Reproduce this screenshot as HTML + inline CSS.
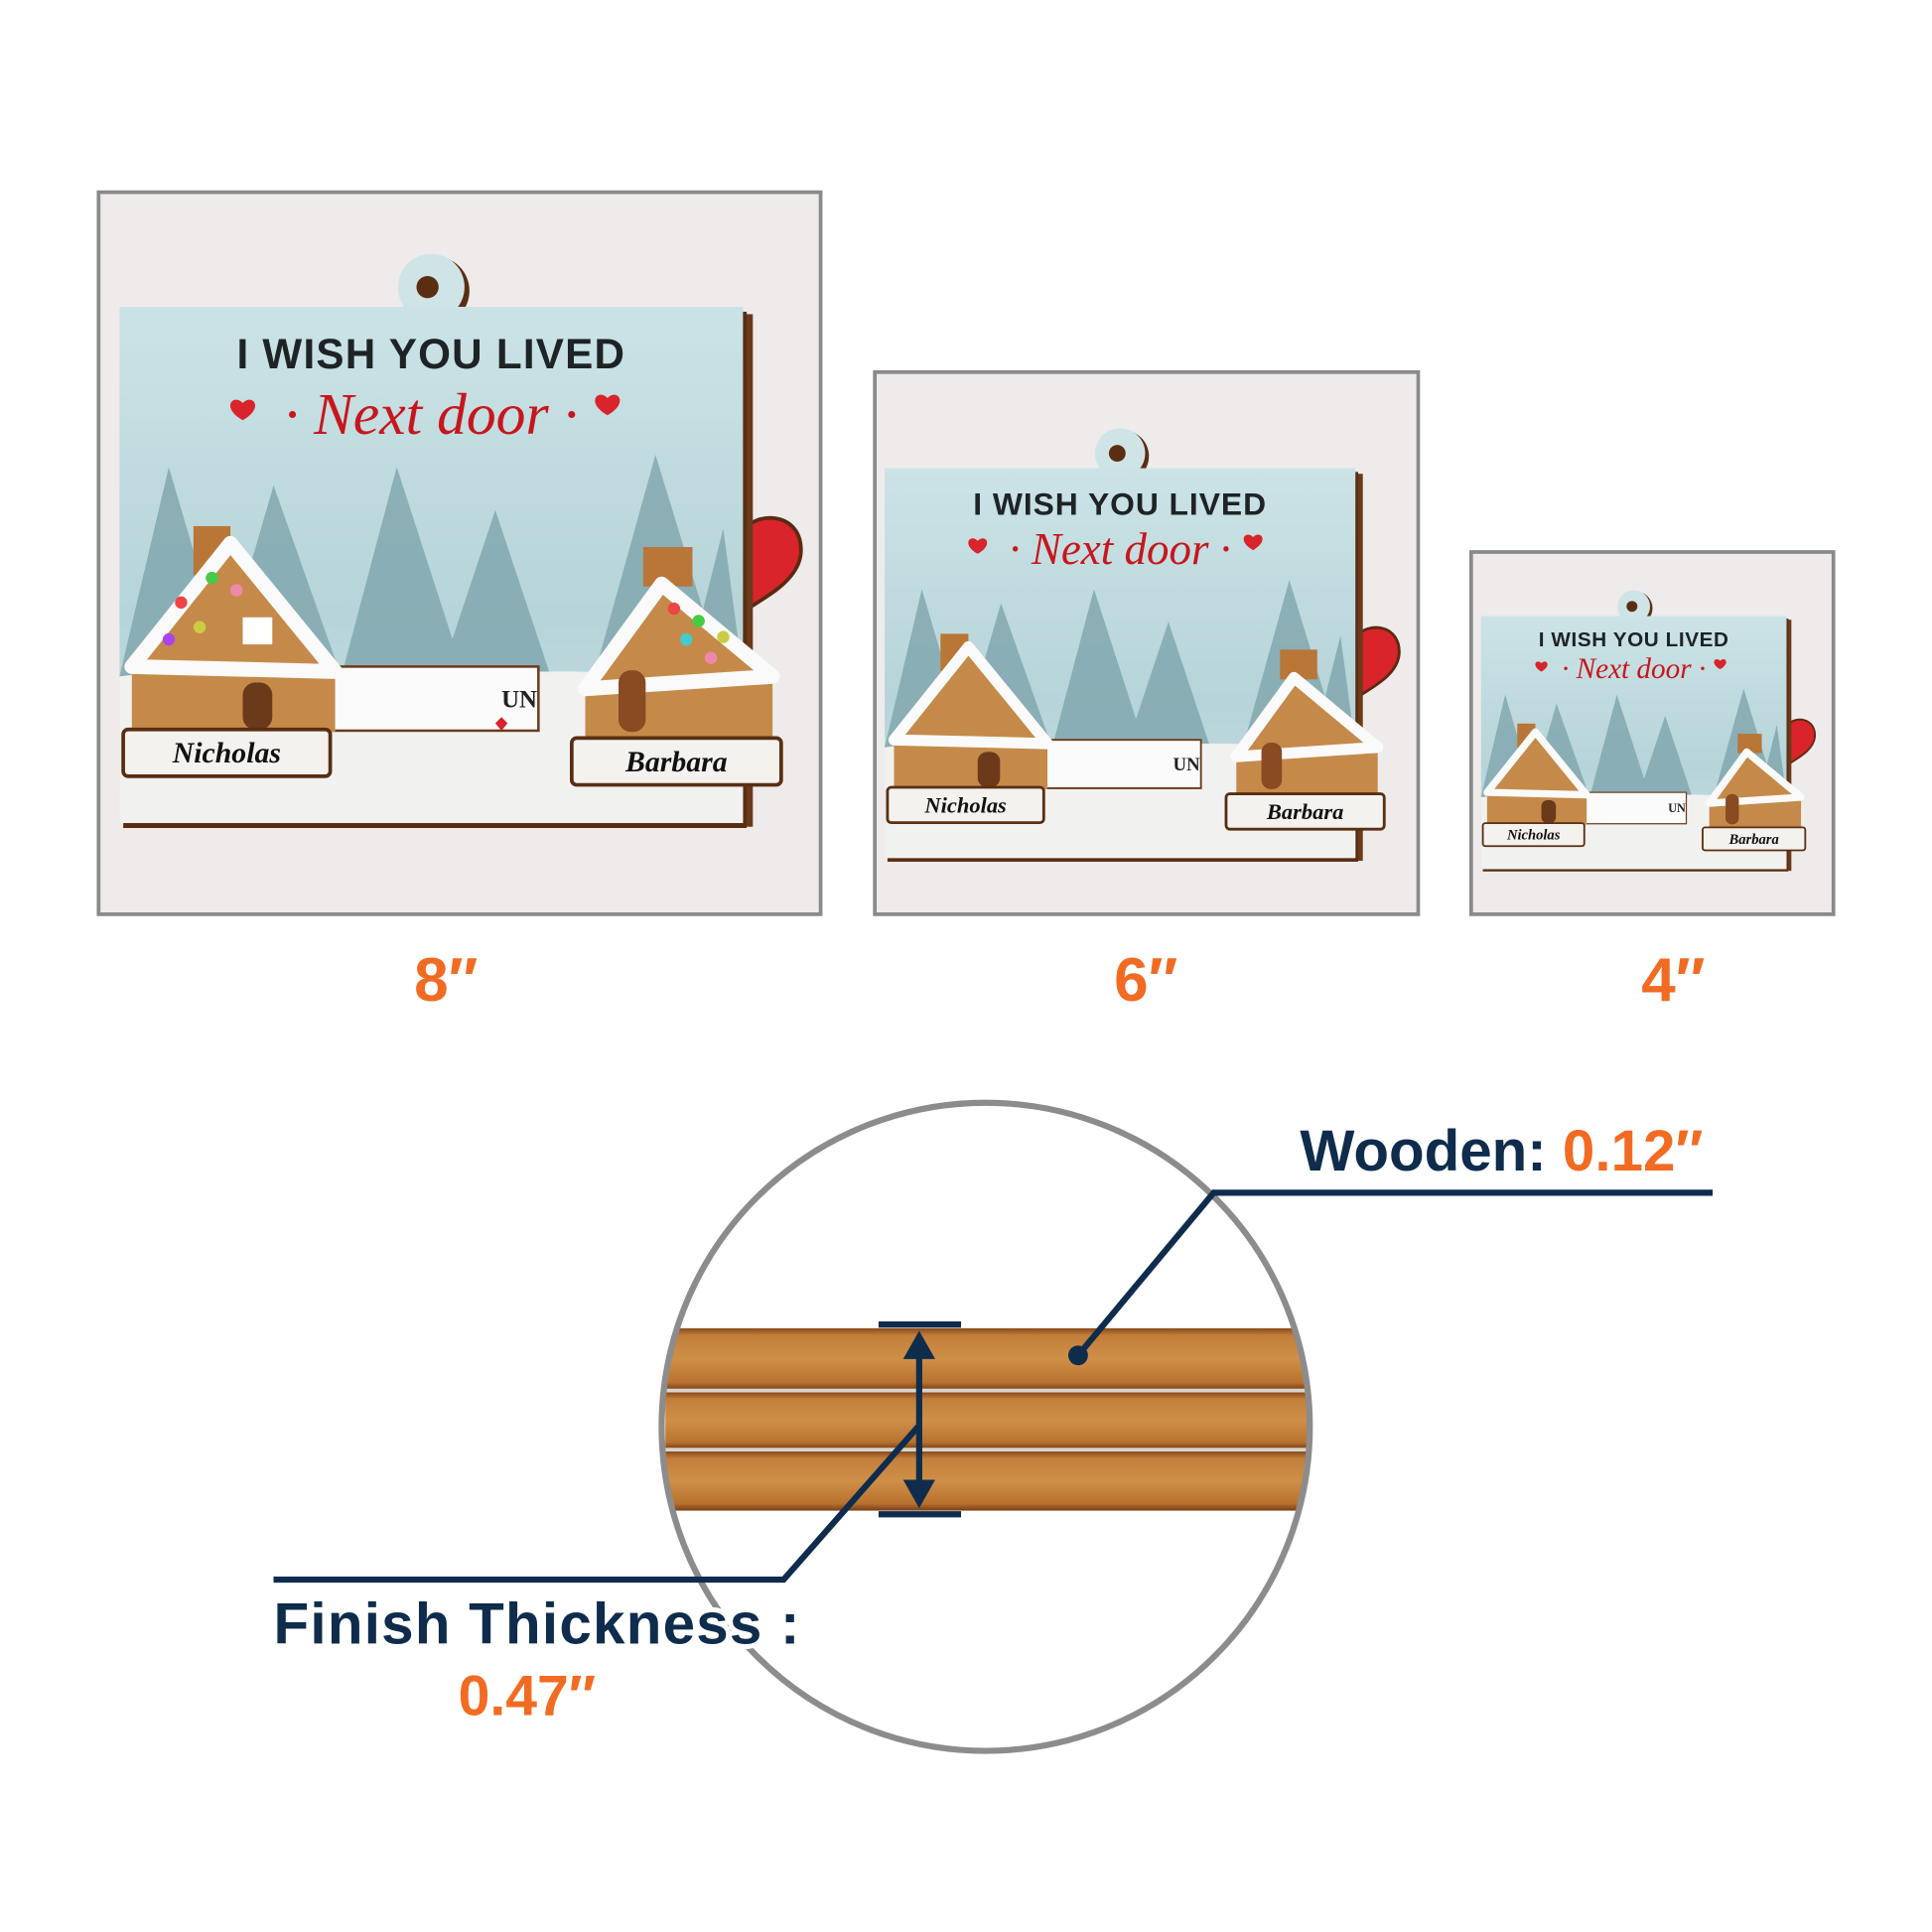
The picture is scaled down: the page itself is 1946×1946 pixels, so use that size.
<!DOCTYPE html>
<html><head><meta charset="utf-8"><style>html,body{margin:0;padding:0;background:#fff}svg{display:block}</style></head>
<body>
<svg width="1946" height="1946" viewBox="0 0 1568 1568" xmlns="http://www.w3.org/2000/svg" font-family="Liberation Sans, sans-serif">
<defs>
<linearGradient id="sky" x1="0" y1="0" x2="0" y2="1"><stop offset="0" stop-color="#cbe3e6"/><stop offset="0.6" stop-color="#b6d4d9"/><stop offset="1" stop-color="#c9dfe2"/></linearGradient>
<linearGradient id="wood" x1="0" y1="0" x2="0" y2="1"><stop offset="0" stop-color="#8a4a1c"/><stop offset="0.12" stop-color="#c27f3a"/><stop offset="0.5" stop-color="#cf8f47"/><stop offset="0.88" stop-color="#b8722f"/><stop offset="1" stop-color="#7a3c14"/></linearGradient>
<clipPath id="cc"><circle cx="800" cy="1158" r="263"/></clipPath>
</defs>
<rect width="1568" height="1568" fill="#fff"/>
<rect x="80" y="156" width="586" height="586" fill="#efebeb" stroke="#8a8a8a" stroke-width="3"/>
<rect x="710" y="302" width="441" height="440" fill="#efebeb" stroke="#8a8a8a" stroke-width="3"/>
<rect x="1194" y="448" width="294" height="294" fill="#efebeb" stroke="#8a8a8a" stroke-width="3"/>

<g transform="translate(97,249)">
<path d="M508 180 C520 165 555 168 553 200 C551 222 525 235 510 245 Z" fill="#d8242a" stroke="#5a2a12" stroke-width="3"/>
<rect x="504" y="6" width="10" height="416" fill="#6b3a1a"/>
<circle cx="256" cy="-13" r="28" fill="#5a2e12"/>
<circle cx="253" cy="-16" r="27" fill="#cfe4e7"/>
<circle cx="250" cy="-16" r="9" fill="#5a2e12"/>
<rect x="3" y="4" width="506" height="419" fill="#5a2e12"/>
<rect x="0" y="0" width="506" height="419" fill="url(#sky)"/>
<g fill="#7fa5ac" opacity="0.8">
<polygon points="40,130 0,300 90,300"/><polygon points="125,145 80,300 180,300"/><polygon points="225,130 180,300 280,300"/><polygon points="305,165 260,300 350,300"/><polygon points="435,120 385,300 490,300"/><polygon points="490,180 460,300 506,300"/>
</g>
<path d="M0 300 Q120 285 250 300 Q380 290 506 305 L506 419 L0 419 Z" fill="#f1f1f0"/>
<rect x="170" y="292" width="170" height="52" fill="#fbfbfb" stroke="#6b3a1a" stroke-width="2"/>
<text x="310" y="325" font-family="Liberation Serif, serif" font-weight="bold" font-size="20" fill="#222">UN</text>
<path d="M305 338 l5 -5 5 5 -5 6 z" fill="#d8242a"/>
<rect x="60" y="178" width="30" height="40" fill="#b97636"/>
<polygon points="10,290 90,190 175,295 175,345 10,345" fill="#c58a4a"/>
<polygon points="10,292 90,192 175,296" fill="none" stroke="#fafafa" stroke-width="12" stroke-linejoin="round"/>
<rect x="100" y="305" width="24" height="38" rx="10" fill="#6b3a1a"/>
<rect x="100" y="252" width="24" height="22" fill="#fff"/>
<g fill="#e44"><circle cx="50" cy="240" r="5"/><circle cx="75" cy="220" r="5" fill="#4c4"/><circle cx="65" cy="260" r="5" fill="#cc4"/><circle cx="40" cy="270" r="5" fill="#a4e"/><circle cx="95" cy="230" r="5" fill="#e8a"/></g>
<rect x="3" y="343" width="168" height="38" rx="4" fill="#f4f2ef" stroke="#5a2e12" stroke-width="3"/>
<text x="87" y="370" text-anchor="middle" font-family="Liberation Serif, serif" font-style="italic" font-weight="bold" font-size="24" fill="#111">Nicholas</text>
<rect x="425" y="195" width="40" height="32" fill="#b97636"/>
<polygon points="378,310 440,225 530,300 530,352 378,352" fill="#c58a4a"/>
<polygon points="378,310 440,225 530,300" fill="none" stroke="#fafafa" stroke-width="12" stroke-linejoin="round"/>
<g><circle cx="450" cy="245" r="5" fill="#e44"/><circle cx="470" cy="255" r="5" fill="#4c4"/><circle cx="490" cy="268" r="5" fill="#cc4"/><circle cx="460" cy="270" r="5" fill="#4cc"/><circle cx="480" cy="285" r="5" fill="#e8a"/></g>
<rect x="405" y="295" width="22" height="50" rx="10" fill="#8a4a22"/>
<rect x="367" y="350" width="170" height="38" rx="4" fill="#f4f2ef" stroke="#5a2e12" stroke-width="3"/>
<text x="452" y="377" text-anchor="middle" font-family="Liberation Serif, serif" font-style="italic" font-weight="bold" font-size="24" fill="#111">Barbara</text>
<text x="253" y="50" text-anchor="middle" font-weight="bold" font-size="34" fill="#1e2326" letter-spacing="1">I WISH YOU LIVED</text>
<text x="253" y="103" text-anchor="middle" font-family="Liberation Serif, serif" font-style="italic" font-size="48" fill="#c7161d">· Next door ·</text>
<path d="M100 78 c-8 -8 -18 4 0 14 c18 -10 8 -22 0 -14z" fill="#d8242a"/>
<path d="M396 74 c-8 -8 -18 4 0 14 c18 -10 8 -22 0 -14z" fill="#d8242a"/>
</g>

<g transform="translate(718,380) scale(0.755)">
<path d="M508 180 C520 165 555 168 553 200 C551 222 525 235 510 245 Z" fill="#d8242a" stroke="#5a2a12" stroke-width="3"/>
<rect x="504" y="6" width="10" height="416" fill="#6b3a1a"/>
<circle cx="256" cy="-13" r="28" fill="#5a2e12"/><circle cx="253" cy="-16" r="27" fill="#cfe4e7"/><circle cx="250" cy="-16" r="9" fill="#5a2e12"/>
<rect x="3" y="4" width="506" height="419" fill="#5a2e12"/><rect x="0" y="0" width="506" height="419" fill="url(#sky)"/>
<g fill="#7fa5ac" opacity="0.8"><polygon points="40,130 0,300 90,300"/><polygon points="125,145 80,300 180,300"/><polygon points="225,130 180,300 280,300"/><polygon points="305,165 260,300 350,300"/><polygon points="435,120 385,300 490,300"/><polygon points="490,180 460,300 506,300"/></g>
<path d="M0 300 Q120 285 250 300 Q380 290 506 305 L506 419 L0 419 Z" fill="#f1f1f0"/>
<rect x="170" y="292" width="170" height="52" fill="#fbfbfb" stroke="#6b3a1a" stroke-width="2"/>
<text x="310" y="325" font-family="Liberation Serif, serif" font-weight="bold" font-size="20" fill="#222">UN</text>
<rect x="60" y="178" width="30" height="40" fill="#b97636"/><polygon points="10,290 90,190 175,295 175,345 10,345" fill="#c58a4a"/><polygon points="10,292 90,192 175,296" fill="none" stroke="#fafafa" stroke-width="12" stroke-linejoin="round"/><rect x="100" y="305" width="24" height="38" rx="10" fill="#6b3a1a"/>
<rect x="3" y="343" width="168" height="38" rx="4" fill="#f4f2ef" stroke="#5a2e12" stroke-width="3"/>
<text x="87" y="370" text-anchor="middle" font-family="Liberation Serif, serif" font-style="italic" font-weight="bold" font-size="24" fill="#111">Nicholas</text>
<rect x="425" y="195" width="40" height="32" fill="#b97636"/><polygon points="378,310 440,225 530,300 530,352 378,352" fill="#c58a4a"/><polygon points="378,310 440,225 530,300" fill="none" stroke="#fafafa" stroke-width="12" stroke-linejoin="round"/><rect x="405" y="295" width="22" height="50" rx="10" fill="#8a4a22"/>
<rect x="367" y="350" width="170" height="38" rx="4" fill="#f4f2ef" stroke="#5a2e12" stroke-width="3"/>
<text x="452" y="377" text-anchor="middle" font-family="Liberation Serif, serif" font-style="italic" font-weight="bold" font-size="24" fill="#111">Barbara</text>
<text x="253" y="50" text-anchor="middle" font-weight="bold" font-size="34" fill="#1e2326" letter-spacing="1">I WISH YOU LIVED</text>
<text x="253" y="103" text-anchor="middle" font-family="Liberation Serif, serif" font-style="italic" font-size="48" fill="#c7161d">· Next door ·</text>
<path d="M100 78 c-8 -8 -18 4 0 14 c18 -10 8 -22 0 -14z" fill="#d8242a"/><path d="M396 74 c-8 -8 -18 4 0 14 c18 -10 8 -22 0 -14z" fill="#d8242a"/>
</g>

<g transform="translate(1202,500) scale(0.49)">
<path d="M508 180 C520 165 555 168 553 200 C551 222 525 235 510 245 Z" fill="#d8242a" stroke="#5a2a12" stroke-width="3"/>
<rect x="504" y="6" width="10" height="416" fill="#6b3a1a"/>
<circle cx="256" cy="-13" r="28" fill="#5a2e12"/><circle cx="253" cy="-16" r="27" fill="#cfe4e7"/><circle cx="250" cy="-16" r="9" fill="#5a2e12"/>
<rect x="3" y="4" width="506" height="419" fill="#5a2e12"/><rect x="0" y="0" width="506" height="419" fill="url(#sky)"/>
<g fill="#7fa5ac" opacity="0.8"><polygon points="40,130 0,300 90,300"/><polygon points="125,145 80,300 180,300"/><polygon points="225,130 180,300 280,300"/><polygon points="305,165 260,300 350,300"/><polygon points="435,120 385,300 490,300"/><polygon points="490,180 460,300 506,300"/></g>
<path d="M0 300 Q120 285 250 300 Q380 290 506 305 L506 419 L0 419 Z" fill="#f1f1f0"/>
<rect x="170" y="292" width="170" height="52" fill="#fbfbfb" stroke="#6b3a1a" stroke-width="2"/>
<text x="310" y="325" font-family="Liberation Serif, serif" font-weight="bold" font-size="20" fill="#222">UN</text>
<rect x="60" y="178" width="30" height="40" fill="#b97636"/><polygon points="10,290 90,190 175,295 175,345 10,345" fill="#c58a4a"/><polygon points="10,292 90,192 175,296" fill="none" stroke="#fafafa" stroke-width="12" stroke-linejoin="round"/><rect x="100" y="305" width="24" height="38" rx="10" fill="#6b3a1a"/>
<rect x="3" y="343" width="168" height="38" rx="4" fill="#f4f2ef" stroke="#5a2e12" stroke-width="3"/>
<text x="87" y="370" text-anchor="middle" font-family="Liberation Serif, serif" font-style="italic" font-weight="bold" font-size="24" fill="#111">Nicholas</text>
<rect x="425" y="195" width="40" height="32" fill="#b97636"/><polygon points="378,310 440,225 530,300 530,352 378,352" fill="#c58a4a"/><polygon points="378,310 440,225 530,300" fill="none" stroke="#fafafa" stroke-width="12" stroke-linejoin="round"/><rect x="405" y="295" width="22" height="50" rx="10" fill="#8a4a22"/>
<rect x="367" y="350" width="170" height="38" rx="4" fill="#f4f2ef" stroke="#5a2e12" stroke-width="3"/>
<text x="452" y="377" text-anchor="middle" font-family="Liberation Serif, serif" font-style="italic" font-weight="bold" font-size="24" fill="#111">Barbara</text>
<text x="253" y="50" text-anchor="middle" font-weight="bold" font-size="34" fill="#1e2326" letter-spacing="1">I WISH YOU LIVED</text>
<text x="253" y="103" text-anchor="middle" font-family="Liberation Serif, serif" font-style="italic" font-size="48" fill="#c7161d">· Next door ·</text>
<path d="M100 78 c-8 -8 -18 4 0 14 c18 -10 8 -22 0 -14z" fill="#d8242a"/><path d="M396 74 c-8 -8 -18 4 0 14 c18 -10 8 -22 0 -14z" fill="#d8242a"/>
</g>

<g font-weight="bold" font-size="50" fill="#f26b22" text-anchor="middle">
<text x="362" y="812">8″</text><text x="930" y="812">6″</text><text x="1358" y="812">4″</text>
</g>

<circle cx="800" cy="1158" r="263" fill="#fff"/>
<g clip-path="url(#cc)">
<rect x="540" y="1078" width="525" height="50" fill="url(#wood)"/>
<rect x="540" y="1130" width="525" height="46" fill="url(#wood)"/>
<rect x="540" y="1178" width="525" height="48" fill="url(#wood)"/>
<rect x="540" y="1127" width="525" height="3" fill="#d8d4cc"/>
<rect x="540" y="1175" width="525" height="3" fill="#d8d4cc"/>
</g>
<circle cx="800" cy="1158" r="263" fill="none" stroke="#8c8c8c" stroke-width="5"/>

<g stroke="#0f2c4d" stroke-width="5" fill="none">
<polyline points="1390,968 985,968 875,1100"/>
<polyline points="222,1282 636,1282 745,1158"/>
<line x1="713" y1="1075" x2="780" y2="1075"/>
<line x1="713" y1="1229" x2="780" y2="1229"/>
<line x1="746" y1="1090" x2="746" y2="1214"/>
</g>
<circle cx="875" cy="1100" r="8" fill="#0f2c4d"/>
<polygon points="746,1080 733,1103 759,1103" fill="#0f2c4d"/>
<polygon points="746,1224 733,1201 759,1201" fill="#0f2c4d"/>

<g font-weight="bold" stroke="#fff" stroke-width="8" paint-order="stroke" stroke-linejoin="round">
<text x="1055" y="950" fill="#0f2c4d" font-size="47">Wooden: <tspan fill="#f26b22">0.12″</tspan></text>
<text x="222" y="1334" fill="#0f2c4d" font-size="47" letter-spacing="1">Finish Thickness :</text>
<text x="372" y="1392" fill="#f26b22" font-size="46">0.47″</text>
</g>
</svg>
</body></html>
